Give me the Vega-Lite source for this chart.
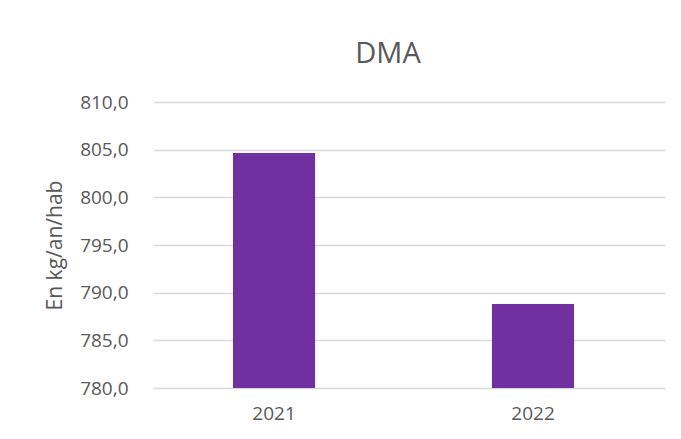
{
  "$schema": "https://vega.github.io/schema/vega-lite/v6.json",
  "autosize": {"type": "none"},
  "width": 512,
  "height": 286,
  "padding": {"left": 153, "top": 102, "right": 16, "bottom": 51},
  "background": "white",
  "title": {"text": "DMA", "fontSize": 29, "font": "Open Sans", "fontWeight": "normal", "color": "#595959", "anchor": "middle", "dx": -21, "offset": 24},
  "data": {"values": [
    {"year": "2021", "value": 804.65},
    {"year": "2022", "value": 788.8}
  ]},
  "mark": {"type": "bar", "color": "#7030A0"},
  "encoding": {
    "x": {"field": "year", "type": "nominal", "title": null,
      "scale": {"paddingInner": 0.683, "paddingOuter": 0.33, "align": 0.468},
      "axis": {"labelAngle": 0, "labelFont": "Open Sans", "labelFontSize": 19, "labelColor": "#595959", "ticks": false, "domain": false, "labelPadding": 16}},
    "y": {"field": "value", "type": "quantitative", "title": "En kg/an/hab",
      "scale": {"domain": [780, 810], "zero": false, "nice": false},
      "axis": {"values": [780, 785, 790, 795, 800, 805, 810],
        "labelExpr": "replace(format(datum.value, '.1f'), '.', ',')",
        "labelFont": "Open Sans", "labelFontSize": 19, "labelColor": "#595959",
        "ticks": false, "domain": false, "labelPadding": 25,
        "grid": true, "gridColor": "#d9d9d9", "gridWidth": 1.5,
        "titleFont": "Open Sans", "titleFontSize": 21, "titleFontWeight": "normal", "titleColor": "#595959", "titlePadding": 14}},
    "y2": {"datum": 780}
  },
  "config": {"view": {"stroke": null}}
}
